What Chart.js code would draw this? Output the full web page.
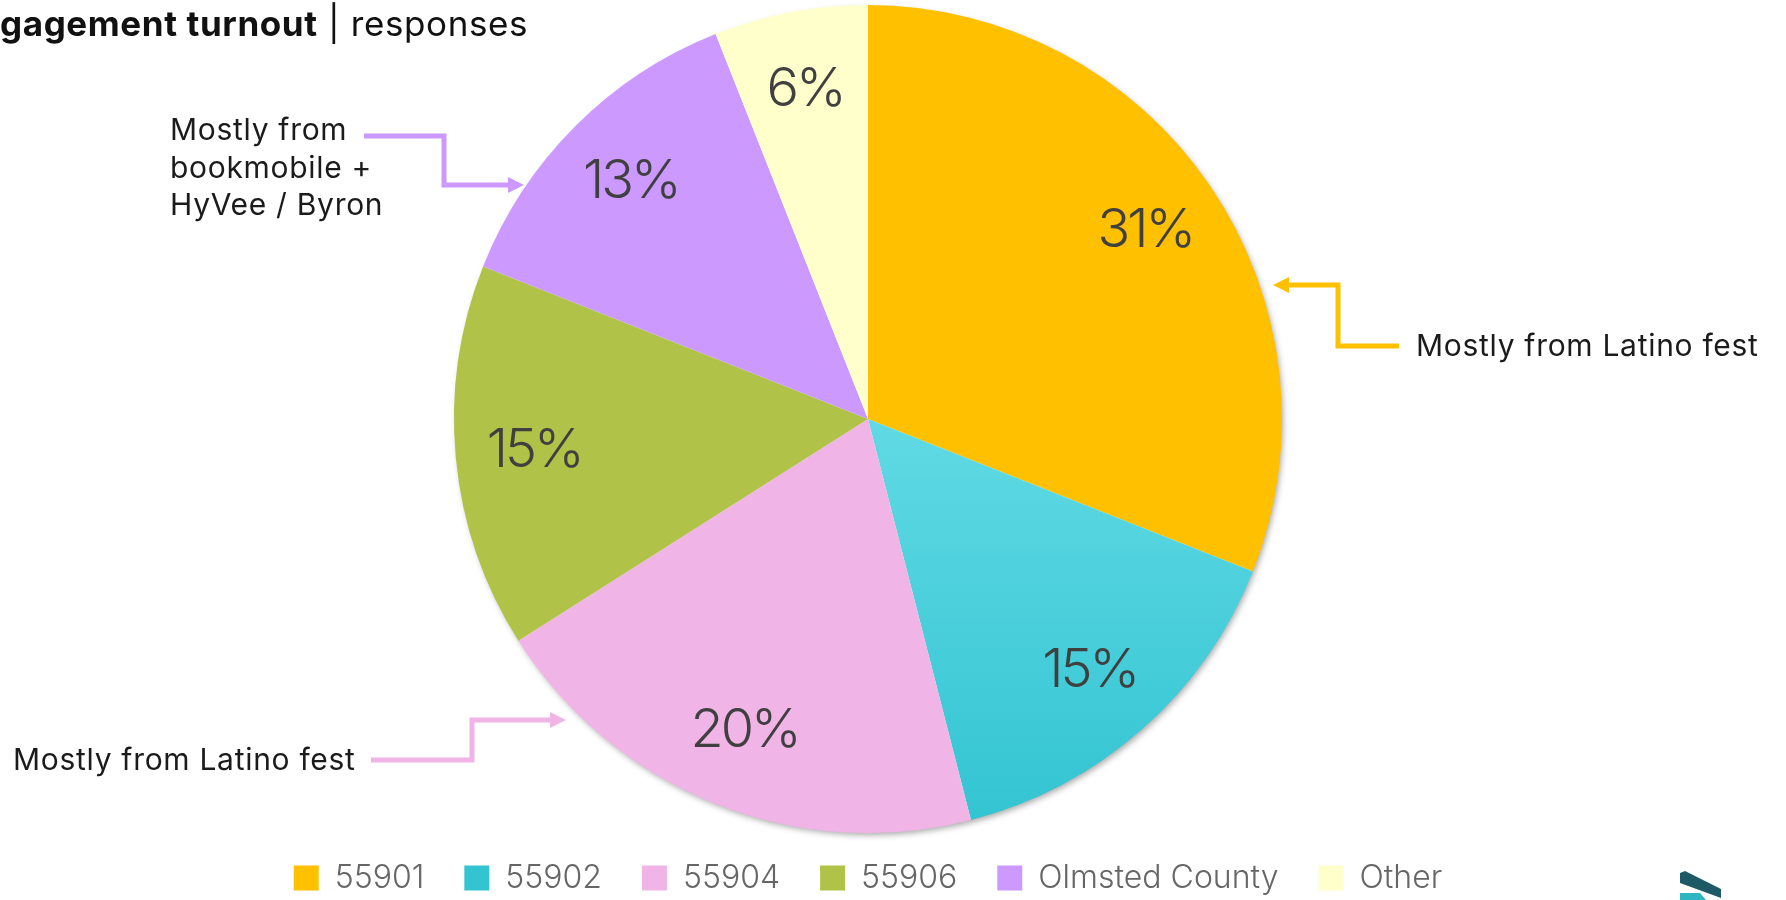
<!DOCTYPE html>
<html>
<head>
<meta charset="utf-8">
<script src="https://cdn.jsdelivr.net/npm/chart.js@4.4.1/dist/chart.umd.min.js"></script>
<style>
  html, body { margin: 0; padding: 0; background: #fff; }
  #wrap { position: relative; width: 1786px; height: 900px; overflow: hidden; }
  #wrap canvas { position: absolute; left: 0; top: 0; }
  .note { position: absolute; font-family: Inter, "Noto Sans", sans-serif; font-size: 30px; letter-spacing: 0.7px; color: #1b1b1b; line-height: 37.5px; white-space: nowrap; }
  #title { position: absolute; left: 0; top: 2px; font-family: Inter, "Noto Sans", sans-serif; font-size: 35px; letter-spacing: 0.6px; color: #111; white-space: nowrap; }
  #title b { font-weight: 700; }
</style>
</head>
<body>
<div id="wrap">
  <canvas id="pieChart" width="1786" height="900"></canvas>
  <div id="title"><b>gagement turnout</b> | responses</div>
  <div class="note" style="left:170px; top:111px;">Mostly from<br>bookmobile +<br>HyVee / Byron</div>
  <div class="note" style="left:13px; top:741px;">Mostly from Latino fest</div>
  <div class="note" style="left:1416px; top:327px;">Mostly from Latino fest</div>
</div>
<script>
const zipAreas = ['55901', '55902', '55904', '55906', 'Olmsted County', 'Other'];
const responseShare = [31, 15, 20, 15, 13, 6];
const sliceColors = ['#FFC000', '#4DD3DF', '#F0B4E6', '#B0C348', '#CB99FF', '#FFFFCC'];

// cyan slice has a soft top-to-bottom gradient
function sliceFill(context) {
  const i = context.dataIndex;
  if (i !== 1) return sliceColors[i];
  const area = context.chart.chartArea;
  if (!area) return sliceColors[i];
  const g = context.chart.ctx.createLinearGradient(0, (area.top + area.bottom) / 2, 0, area.bottom);
  g.addColorStop(0, '#60DAE4');
  g.addColorStop(1, '#33C4D2');
  return g;
}

const pieShadow = {
  id: 'pieShadow',
  beforeDatasetsDraw(chart) {
    const arc = chart.getDatasetMeta(0).data[0];
    if (!arc) return;
    const ctx = chart.ctx;
    ctx.save();
    ctx.shadowColor = 'rgba(0,0,0,0.35)';
    ctx.shadowBlur = 6;
    ctx.shadowOffsetX = 2;
    ctx.shadowOffsetY = 3;
    ctx.fillStyle = '#fff';
    ctx.beginPath();
    ctx.arc(arc.x, arc.y, arc.outerRadius - 1, 0, Math.PI * 2);
    ctx.fill();
    ctx.restore();
  }
};

const percentLabels = {
  id: 'percentLabels',
  afterDatasetsDraw(chart) {
    const ctx = chart.ctx;
    const meta = chart.getDatasetMeta(0);
    const total = responseShare.reduce((a, b) => a + b, 0);
    ctx.save();
    ctx.font = '300 54px Inter, "Noto Sans", sans-serif';
    ctx.letterSpacing = '-3px';
    ctx.fillStyle = '#404040';
    ctx.textAlign = 'center';
    ctx.textBaseline = 'middle';
    meta.data.forEach((arc, i) => {
      const mid = (arc.startAngle + arc.endAngle) / 2;
      const r = arc.outerRadius * 0.81;
      const txt = Math.round(responseShare[i] / total * 100) + '%';
      ctx.fillText(txt, arc.x + Math.cos(mid) * r, arc.y + Math.sin(mid) * r);
    });
    ctx.restore();
  }
};

// elbow arrows pointing from the notes to the slices
const calloutArrows = {
  id: 'calloutArrows',
  afterDraw(chart) {
    const ctx = chart.ctx;
    const arrows = [
      { color: '#CB99FF', pts: [[364, 136], [444, 136], [444, 185], [524, 185]] },
      { color: '#F0B4E6', pts: [[371, 760], [472, 760], [472, 720], [566, 720]] },
      { color: '#FFC000', pts: [[1399, 346], [1338, 346], [1338, 285], [1273, 285]] }
    ];
    ctx.save();
    arrows.forEach(a => {
      ctx.strokeStyle = a.color;
      ctx.fillStyle = a.color;
      ctx.lineWidth = 5;
      ctx.lineJoin = 'miter';
      ctx.beginPath();
      const n = a.pts.length;
      const last = a.pts[n - 1];
      const prev = a.pts[n - 2];
      const dir = Math.sign(last[0] - prev[0]);
      ctx.moveTo(a.pts[0][0], a.pts[0][1]);
      for (let k = 1; k < n - 1; k++) ctx.lineTo(a.pts[k][0], a.pts[k][1]);
      ctx.lineTo(last[0] - dir * 12, last[1]);
      ctx.stroke();
      ctx.beginPath();
      ctx.moveTo(last[0], last[1]);
      ctx.lineTo(last[0] - dir * 16, last[1] - 8);
      ctx.lineTo(last[0] - dir * 16, last[1] + 8);
      ctx.closePath();
      ctx.fill();
    });
    // little logo corner
    ctx.fillStyle = '#1E5A66';
    ctx.beginPath();
    ctx.moveTo(1680, 873); ctx.lineTo(1685, 871); ctx.lineTo(1721, 889);
    ctx.lineTo(1721, 898); ctx.lineTo(1680, 883); ctx.closePath(); ctx.fill();
    ctx.fillStyle = '#2DB5C2';
    ctx.beginPath();
    ctx.moveTo(1680, 893); ctx.lineTo(1700, 893); ctx.lineTo(1706, 900);
    ctx.lineTo(1680, 900); ctx.closePath(); ctx.fill();
    ctx.restore();
  }
};

const data = {
  labels: zipAreas,
  datasets: [{
    data: responseShare,
    backgroundColor: sliceFill,
    borderWidth: 0,
    radius: 414
  }]
};

const config = {
  type: 'pie',
  data: data,
  options: {
    responsive: false,
    animation: false,
    layout: { padding: { top: 16, right: 50, bottom: -4, left: 0 } },
    plugins: {
      legend: {
        display: true,
        position: 'bottom',
        labels: {
          boxWidth: 25,
          boxHeight: 25,
          padding: 40,
          color: '#666666',
          font: { family: 'Inter, "Noto Sans", sans-serif', size: 32, weight: '300' }
        }
      },
      tooltip: { enabled: false }
    }
  },
  plugins: [pieShadow, percentLabels, calloutArrows]
};

const ctx = document.getElementById('pieChart').getContext('2d');
const pieChart = new Chart(ctx, config);
</script>
</body>
</html>
